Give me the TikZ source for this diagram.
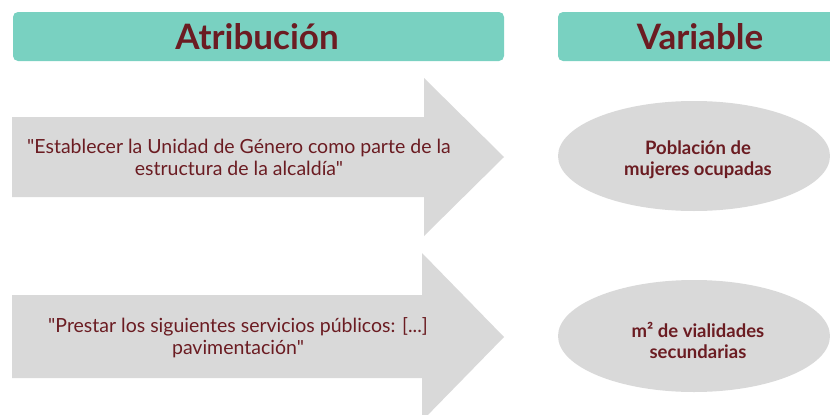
\documentclass[tikz,border=0pt]{standalone}
\usepackage{fontspec}
\setmainfont{Lato}[Ligatures=TeXOff]
\usetikzlibrary{shapes.geometric}
\definecolor{teal1}{HTML}{79D1C1}
\definecolor{gray1}{HTML}{D9D9D9}
\definecolor{wine}{HTML}{6B1C22}
\tikzset{
  header/.style={fill=teal1, rounded corners=5pt, draw=none},
  headtext/.style={text=wine, font=\fontsize{35}{38}\selectfont\bfseries, anchor=center, inner sep=0pt},
  arrowshape/.style={fill=gray1, draw=none},
  bodytext/.style={text=wine, font=\fontsize{19.5}{22}\selectfont, align=center, inner sep=0pt},
  varell/.style={ellipse, fill=gray1, draw=none, minimum width=272pt, minimum height=110pt, inner sep=0pt},
  vartext/.style={text=wine, font=\fontsize{18.5}{21}\selectfont\bfseries, align=center, inner sep=0pt}
}
\begin{document}
\begin{tikzpicture}[x=1pt,y=-1pt]
\useasboundingbox (0,0) rectangle (830,415);
\clip (0,0) rectangle (830,415);
% headers
\path[header] (13,12) rectangle (504,61);
\node[headtext] (h1) at (257,37) {Atribución};
\path[header] (558,12) rectangle (840,61);
\node[headtext] (h2) at (700,37) {Variable};
% arrows
\path[arrowshape] (12,117) -- (424,117) -- (424,78) -- (504,157) -- (424,236) -- (424,197) -- (12,197) -- cycle;
\node[bodytext] (a1) at (239,157) {"Establecer la Unidad de Género como parte de la\\estructura de la alcaldía"};
\path[arrowshape] (12,295) -- (422,295) -- (422,253) -- (504,337) -- (422,421) -- (422,378) -- (12,378) -- cycle;
\node[bodytext] (a2) at (238,338) {"Prestar los siguientes servicios públicos: [...]\\pavimentación"};
% ellipses
\node[varell] (e1) at (694,156) {};
\node[vartext] (t1) at (698,160) {Población de\\mujeres ocupadas};
\node[varell, minimum height=112pt] (e2) at (694,336) {};
\node[vartext] (t2) at (698,340) {m² de vialidades\\secundarias};
\end{tikzpicture}
\end{document}
